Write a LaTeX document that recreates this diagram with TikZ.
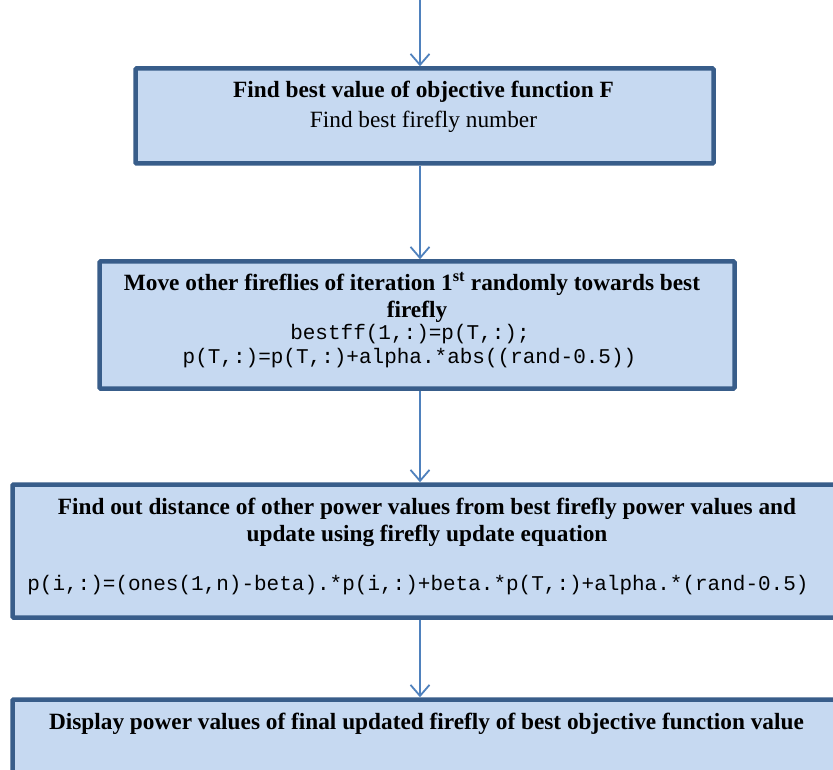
\documentclass[tikz,border=0pt]{standalone}
\usepackage{fontspec}
\setmainfont{Liberation Serif}
\setmonofont{Liberation Mono}
\usetikzlibrary{arrows.meta}
\definecolor{boxfill}{HTML}{C6D9F1}
\definecolor{boxline}{HTML}{385D8A}
\definecolor{arrline}{HTML}{4F81BD}
\tikzset{
  fbox/.style={draw=boxline, fill=boxfill, line width=4.5pt, rounded corners=1pt, inner sep=0pt},
  btext/.style={font=\fontsize{23.3}{27}\selectfont\bfseries, text height=0.7em, text depth=0.22em, inner sep=0pt},
  rtext/.style={font=\fontsize{23.3}{27}\selectfont, text height=0.7em, text depth=0.22em, inner sep=0pt},
  mtext/.style={font=\fontsize{21}{24}\selectfont\ttfamily, text height=0.62em, text depth=0.2em, inner sep=0pt},
  arr/.style={draw=arrline, line width=1.8pt, -{Straight Barb[length=11pt,width=19pt,line width=1.8pt]}}
}
\begin{document}
\begin{tikzpicture}[x=1pt,y=-1pt]
\useasboundingbox (0,0) rectangle (833,770);
\clip (0,0) rectangle (833,770);
\fill[white] (0,0) rectangle (833,770);
\coordinate (top) at (420,0);
\node[fbox, minimum width=578pt, minimum height=95pt] (b1) at (424.5,116) {};
\node[fbox, minimum width=635pt, minimum height=127pt] (b2) at (417,325) {};
\node[fbox, minimum width=830pt, minimum height=133pt] (b3) at (427.5,551) {};
\node[fbox, minimum width=830pt, minimum height=100pt] (b4) at (427.5,749.5) {};
\node[btext] (t1a) at (423.5,95) {Find best value of objective function F};
\node[rtext] (t1b) at (423.5,125) {Find best firefly number};
\node[btext] (t2a) at (412,288) {Move other fireflies of iteration 1\textsuperscript{st} randomly towards best};
\node[btext] (t2b) at (417,315) {firefly};
\node[mtext] (t2c) at (410,337.5) {bestff(1,:)=p(T,:);};
\node[mtext] (t2d) at (409.5,361.5) {p(T,:)=p(T,:)+alpha.*abs((rand-0.5))};
\node[btext] (t3a) at (427,512) {Find out distance of other power values from best firefly power values and};
\node[btext] (t3b) at (427,539.5) {update using firefly update equation};
\node[mtext] (t3c) at (418,588.5) {p(i,:)=(ones(1,n)-beta).*p(i,:)+beta.*p(T,:)+alpha.*(rand-0.5)};
\node[btext] (t4a) at (426.5,727) {Display power values of final updated firefly of best objective function value};
\draw[arr] (top) -- (b1.north -| top);
\draw[arr] (b1.south -| top) -- (b2.north -| top);
\draw[arr] (b2.south -| top) -- (b3.north -| top);
\draw[arr] (b3.south -| top) -- (b4.north -| top);
\end{tikzpicture}
\end{document}
